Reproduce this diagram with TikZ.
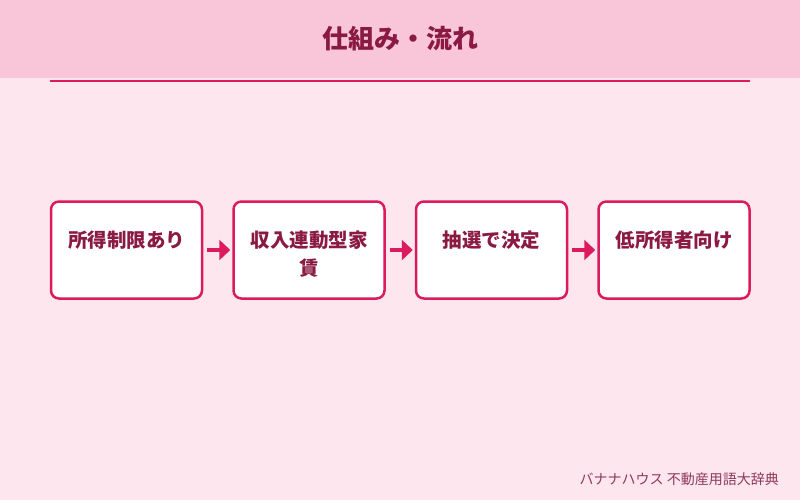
\documentclass[tikz,border=0pt]{standalone}
\usepackage{fontspec}
\setmainfont{Noto Sans CJK JP}
\usetikzlibrary{arrows.meta}

\definecolor{headpink}{HTML}{F8C6D8}
\definecolor{backpink}{HTML}{FDE6EE}
\definecolor{accent}{HTML}{DC1A5E}
\definecolor{darktext}{HTML}{8B1A42}
\definecolor{foottext}{HTML}{8E3A5C}

\begin{document}
\begin{tikzpicture}[
x=1pt,y=-1pt,
stepbox/.style={
rectangle,
rounded corners=8pt,
draw=accent,
line width=2.5pt,
fill=white,
minimum width=151pt,
minimum height=97pt
},
steptext/.style={
anchor=north,
inner sep=0pt,
align=center,
text width=124pt,
text=darktext,
font=\fontsize{19.5}{28}\selectfont\bfseries
},
steparrow/.style={
-{Triangle[length=11pt,width=20pt]},
line width=3.5pt,
draw=accent,
shorten <=4pt,
shorten >=2pt
}
]

\useasboundingbox (0,0) rectangle (800,500);
\fill[backpink] (0,0) rectangle (800,500);

% header
\fill[headpink] (0,0) rectangle (800,78);
\node[text=darktext,font=\fontsize{26}{30}\selectfont\bfseries] (title) at (400,39) {仕組み・流れ};
\draw[accent,line width=2pt] (50,81) -- (750,81);

% steps
\node[stepbox] (box1) at (126.5,250) {};
\node[stepbox] (box2) at (309,250) {};
\node[stepbox] (box3) at (491.5,250) {};
\node[stepbox] (box4) at (674,250) {};

\node[steptext] (txt1) at ([yshift=-30pt]box1.north) {所得制限あり};
\node[steptext] (txt2) at ([yshift=-30pt]box2.north) {収入連動型家\\賃};
\node[steptext] (txt3) at ([yshift=-30pt]box3.north) {抽選で決定};
\node[steptext] (txt4) at ([yshift=-30pt]box4.north) {低所得者向け};

\draw[steparrow] (box1.east) -- (box2.west);
\draw[steparrow] (box2.east) -- (box3.west);
\draw[steparrow] (box3.east) -- (box4.west);

% footer
\node[anchor=east,inner sep=0pt,text=foottext,font=\fontsize{14}{16}\selectfont] (credit) at (779,479) {バナナハウス 不動産用語大辞典};

\end{tikzpicture}
\end{document}
